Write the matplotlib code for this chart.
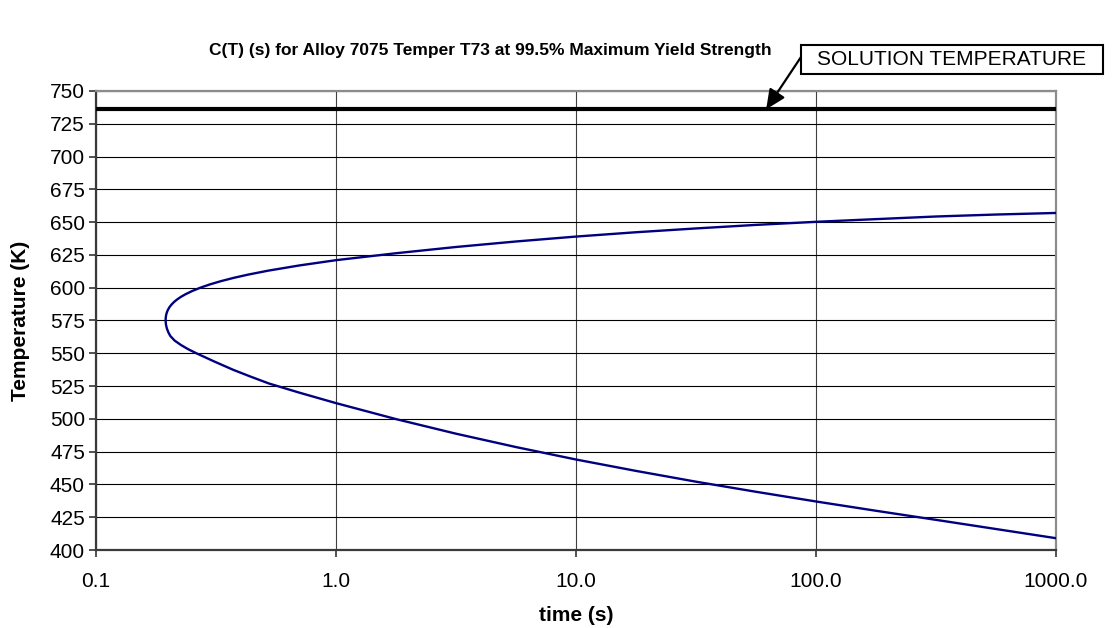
import matplotlib
matplotlib.use("Agg")
import matplotlib.pyplot as plt
from matplotlib.patches import Rectangle
import numpy as np

plt.rcParams["font.family"] = ["Liberation Sans", "DejaVu Sans"]

# C-curve read off the alloy data: upper branch (hot side) down to the nose,
# then the lower branch (cold side). Time in seconds, temperature in K.
upper_T = [657, 655.8, 654.3, 652.3, 650.25, 647.9, 645.2, 642.3, 639, 635.25,
           631.05, 626.3, 621, 617, 613, 610, 607.5, 605, 602.5, 600,
           597.5, 595, 593, 591, 589, 587, 585, 583, 581, 579, 577]
upper_t = [1000, 562, 316, 178, 100, 56.2, 31.6, 17.8, 10, 5.62,
           3.16, 1.78, 1.0, 0.7046, 0.5215, 0.4306, 0.3744, 0.3314, 0.2980, 0.2720,
           0.2517, 0.2359, 0.2257, 0.2176, 0.2111, 0.2060, 0.2021, 0.1992, 0.1972, 0.1959, 0.1952]
nose_T = [575]
nose_t = [0.195]
lower_T = [572, 568.9, 565.8, 563.1, 559.7, 556.3, 553.1, 550, 543.7, 537.4,
           532.2, 527, 520.1, 512, 499.8, 488.7, 478.5, 469, 460.3, 452.1,
           444.4, 437, 429.9, 423, 416, 409]
lower_t = [0.1956, 0.1974, 0.2004, 0.2042, 0.2126, 0.2260, 0.2422, 0.2620, 0.3114, 0.3729,
           0.4409, 0.5248, 0.7, 1.0, 1.78, 3.16, 5.62, 10, 17.8, 31.6,
           56.2, 100, 178, 316, 562, 1000]

solution_T = 736
x_ticks = [0.1, 1, 10, 100, 1000]
x_labels = ["0.1", "1.0", "10.0", "100.0", "1000.0"]
y_ticks = list(range(400, 751, 25))

curve_T = np.array(upper_T + nose_T + lower_T)
curve_t = np.array(upper_t + nose_t + lower_t)

W, H = 1112, 628
fig = plt.figure(figsize=(W / 100, H / 100), dpi=100)
ax = fig.add_axes([96 / W, 1 - 550 / H, 960 / W, 459 / H])

ax.set_xscale("log")
ax.set_xlim(0.1, 1000)
ax.set_ylim(400, 750)

ax.axhline(solution_T, color="black", lw=3.0, zorder=3)
ax.plot(curve_t, curve_T, color="#000080", lw=1.7,
        solid_joinstyle="round", solid_capstyle="round", zorder=4)

ax.set_xticks(x_ticks)
ax.set_xticklabels(x_labels)
ax.xaxis.set_minor_locator(matplotlib.ticker.NullLocator())
ax.set_yticks(y_ticks)

ax.grid(axis="y", color="black", lw=0.8)
ax.grid(axis="x", color="#404040", lw=0.8)
ax.set_axisbelow(True)

ax.tick_params(axis="both", which="major", labelsize=15, length=5, width=1.2,
               direction="out", color="#333333")
ax.tick_params(axis="x", pad=11)
ax.tick_params(axis="y", pad=3)

for side in ("top", "right"):
    ax.spines[side].set_color("#8c8c8c")
    ax.spines[side].set_linewidth(1.6)
for side in ("left", "bottom"):
    ax.spines[side].set_color("#3a3a3a")
    ax.spines[side].set_linewidth(1.6)

ax.set_ylabel("Temperature (K)", fontsize=15, fontweight="bold")
ax.yaxis.set_label_coords(-0.069, 0.5)
ax.set_xlabel("time (s)", fontsize=15, fontweight="bold")
ax.xaxis.set_label_coords(0.5, -0.122)

fig.text(490 / W, 1 - 50 / H,
         "C(T) (s) for Alloy 7075 Temper T73 at 99.5% Maximum Yield Strength",
         ha="center", va="center", fontsize=12.5, fontweight="bold")

# label box with an arrow pointing at the solution temperature line
box_l, box_r, box_t, box_b = 801, 1103, 45, 74
fig.patches.append(Rectangle((box_l / W, 1 - box_b / H), (box_r - box_l) / W,
                             (box_b - box_t) / H, transform=fig.transFigure,
                             facecolor="white", edgecolor="black", lw=1.5, zorder=5))
fig.text((box_l + box_r) / 2 / W, 1 - (box_t + box_b) / 2 / H, "SOLUTION TEMPERATURE",
         ha="center", va="center", fontsize=15, zorder=6)
ax.annotate(
    "",
    xy=(62, solution_T), xycoords="data",
    xytext=(box_l / W, 1 - 57 / H), textcoords="figure fraction",
    arrowprops=dict(arrowstyle="-|>,head_length=1.2,head_width=0.55",
                    color="black", lw=1.6, shrinkA=0, shrinkB=0),
    annotation_clip=False, zorder=6,
)

fig.savefig("out.png", dpi=100, facecolor="white")
